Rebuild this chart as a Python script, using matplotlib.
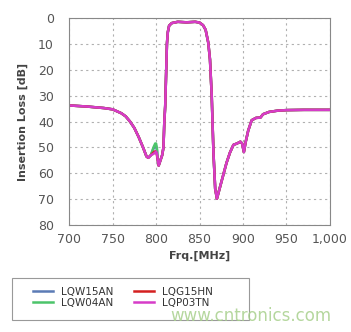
import numpy as np
import matplotlib.pyplot as plt
from matplotlib.patches import Rectangle

freq = [700, 720, 740, 750, 760, 765, 770, 775, 780, 785, 789, 791, 794, 797,
        799, 800, 801, 802, 803, 805, 807, 808.5, 809.5, 810.5, 811.5, 812.5,
        813.5, 815, 818, 825, 835, 845, 850, 854, 857, 860, 862, 864, 866, 868,
        870, 873, 877, 881, 885, 889, 893, 897, 899, 901, 903, 906, 910, 915,
        920, 923, 930, 940, 950, 970, 1000]

base = [33.8, 34.2, 34.8, 35.3, 36.8, 38.0, 40.0, 42.5, 46.0, 50.0, 53.5, 54.0,
        53.0, 52.5, 52.0, 51.6, 52.5, 55.0, 57.0, 55.0, 53.0, 50.0, 40.0, 34.0,
        22.0, 10.0, 5.5, 3.0, 2.0, 1.5, 1.7, 1.5, 1.8, 2.8, 4.6, 9.5, 16.0, 30.0,
        52.0, 66.0, 69.8, 66.0, 61.0, 56.0, 52.0, 49.0, 48.5, 47.8, 48.5, 51.8,
        48.0, 43.5, 39.5, 38.6, 38.5, 37.2, 36.3, 35.8, 35.6, 35.5, 35.5]

# the four parts only part ways around 795-805 MHz
lqw15an = list(base)
lqw04an = list(base)
lqg15hn = list(base)
lqp03tn = list(base)
i800 = freq.index(800)
lqw15an[i800 - 2:i800 + 2] = [50.5, 49.5, 49.5, 51.0]
lqw04an[i800 - 2:i800 + 2] = [50.0, 48.5, 48.5, 50.5]
lqg15hn[i800 - 2:i800 + 2] = [52.0, 51.5, 51.8, 53.0]

names = ['LQW15AN', 'LQW04AN', 'LQG15HN', 'LQP03TN']
series = [lqw15an, lqw04an, lqg15hn, lqp03tn]
colors = ['#5b7bb5', '#4cc46a', '#d42020', '#d63cc8']

W, H = 351, 332
fig = plt.figure(figsize=(W / 100, H / 100), dpi=100)
ax = fig.add_axes([0.197, 0.322, 0.743, 0.624])

for name, vals, c in zip(names, series, colors):
    ax.plot(freq, vals, color=c, lw=1.8, label=name)

ax.set_xlim(700, 1000)
ax.set_ylim(80, 0)
ax.set_xticks(np.arange(700, 1001, 50))
ax.set_xticklabels(['700', '750', '800', '850', '900', '950', '1,000'])
ax.set_yticks(np.arange(0, 81, 10))
ax.grid(True, color='#b0b0b0', ls=(0, (2, 3)), lw=0.8)
ax.tick_params(axis='y', length=0, labelsize=9, labelcolor='#555555', pad=11)
ax.tick_params(axis='x', length=0, labelsize=9, labelcolor='#555555', pad=6)
for s in ax.spines.values():
    s.set_color('#888888')
    s.set_linewidth(0.8)

ax.set_xlabel('Frq.[MHz]', fontsize=8, fontweight='bold', color='#444444', labelpad=3)
ax.set_ylabel('Insertion Loss [dB]', fontsize=8, fontweight='bold', color='#444444', labelpad=7)

# legend box drawn separately, entries placed inside it
fig.patches.append(Rectangle((12 / W, 1 - 320 / H), 237 / W, 42 / H,
                             transform=fig.transFigure, fill=False,
                             edgecolor='#999999', lw=0.8))
leg = fig.legend(loc='upper left', bbox_to_anchor=(33 / W, 1 - 287 / H),
                 ncol=2, fontsize=7.5, frameon=False, handlelength=1.9,
                 handletextpad=0.8, borderpad=0, borderaxespad=0,
                 labelspacing=0.05, columnspacing=2.0)
for t in leg.get_texts():
    t.set_color('#333333')

fig.text(0.945, 1 - 316 / H, 'www.cntronics.com', fontsize=12, color='#a8d08d',
         ha='right', va='center', alpha=0.85, zorder=10)

fig.savefig('out.png', dpi=100)
